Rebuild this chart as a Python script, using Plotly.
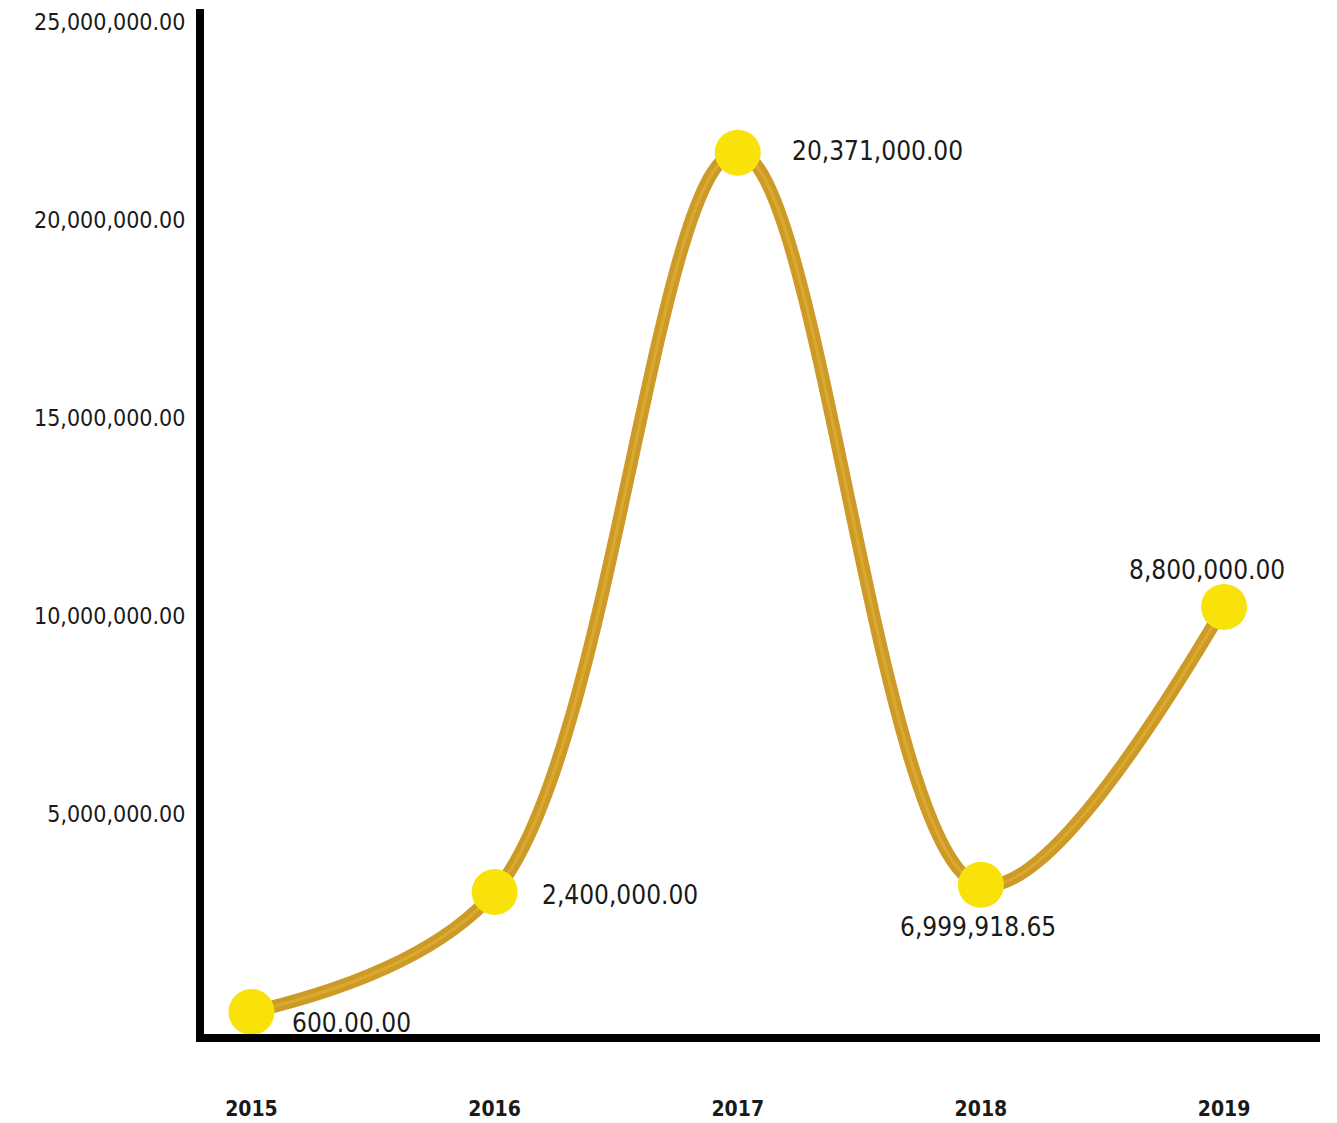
import plotly.graph_objects as go

years = ["2015", "2016", "2017", "2018", "2019"]
# point heights
plot_values = [600, 3030000, 21700000, 3210000, 10230000]
# value labels printed next to the points
label_texts = ["600.00.00", "2,400,000.00", "20,371,000.00", "6,999,918.65", "8,800,000.00"]
y_ticks = [5000000, 10000000, 15000000, 20000000, 25000000]

FONT = "DejaVu Sans Condensed, DejaVu Sans, sans-serif"

fig = go.Figure()
fig.add_trace(go.Scatter(
    x=years, y=plot_values, mode="lines",
    line=dict(color="#CD9A27", width=13, shape="spline", smoothing=1.0),
    hoverinfo="skip", showlegend=False))
fig.add_trace(go.Scatter(
    x=years, y=plot_values, mode="lines",
    line=dict(color="#DAAA30", width=3, shape="spline", smoothing=1.0),
    hoverinfo="skip", showlegend=False))
fig.add_trace(go.Scatter(
    x=years, y=plot_values, mode="markers",
    marker=dict(color="#F9E10A", size=46, line=dict(width=0)),
    showlegend=False))

# label placement (anchor, xshift, yshift) per point
placements = [("center", 100, -11), ("left", 45, -3), ("left", 52, 2),
              ("center", -3, -42), ("center", -17, 37)]
for i, (v, t, (anc, dx, dy)) in enumerate(zip(plot_values, label_texts, placements)):
    fig.add_annotation(x=i, y=v, xref="x", yref="y", text=t, showarrow=False,
                       xanchor=anc, yanchor="middle", xshift=dx, yshift=dy,
                       font=dict(family=FONT, size=26, color="#1a1a1a"))

fig.update_layout(
    width=1329, height=1115,
    margin=dict(l=195.5, r=17, t=1, b=89),
    paper_bgcolor="white", plot_bgcolor="white",
    font=dict(family=FONT, color="#1a1a1a"),
    xaxis=dict(type="category", range=[-0.1953, 4.3947], automargin=False,
               showgrid=False, zeroline=False,
               showline=True, linecolor="black", linewidth=8,
               ticks="outside", ticklen=49, tickcolor="rgba(0,0,0,0)",
               tickfont=dict(family=FONT, size=21, color="#1a1a1a", weight="bold")),
    yaxis=dict(range=[-556000, 25328000], automargin=False,
               showgrid=False, zeroline=False, ticklabeloverflow="allow",
               showline=True, linecolor="black", linewidth=8,
               tickvals=y_ticks, tickformat=",.2f",
               ticks="outside", ticklen=6, tickcolor="rgba(0,0,0,0)",
               tickfont=dict(family=FONT, size=23, color="#1a1a1a")),
)

fig.write_html("out.html")
